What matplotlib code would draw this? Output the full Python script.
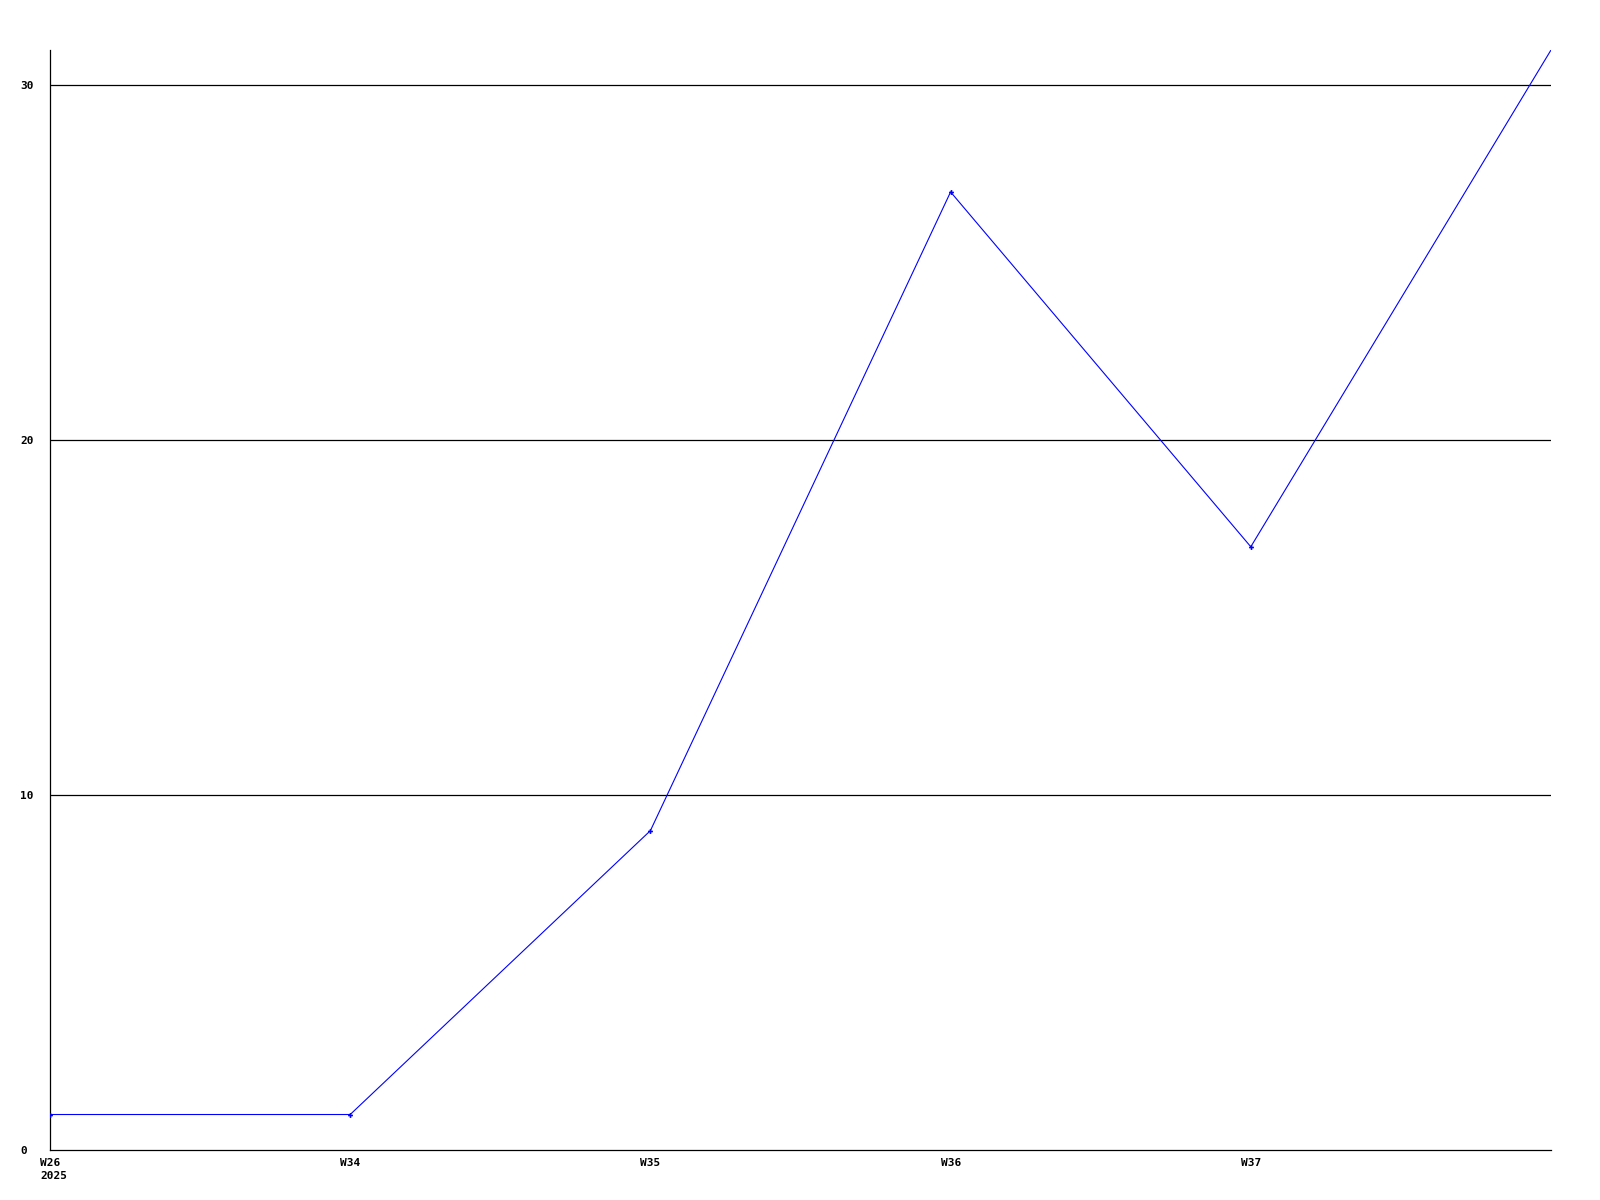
import matplotlib
matplotlib.use("Agg")
import matplotlib.pyplot as plt
import matplotlib.transforms as mtransforms

categories = ["W26\n2025", "W34", "W35", "W36", "W37", "W38"]
values = [1, 1, 9, 27, 17, 31]
yticks = [0, 10, 20, 30]

fig = plt.figure(figsize=(16, 12), dpi=100)
ax = fig.add_axes([50/1600, 1 - 1150/1200, 1501/1600, 1100/1200])

x = list(range(len(values)))
ax.plot(x, values, color="#0000ff", linewidth=0.8, marker="P", markersize=3.5,
        markeredgewidth=0, markevery=list(range(len(values) - 1)), zorder=3)

ax.set_xlim(0, len(values) - 1)
ax.set_ylim(0, 31)
ax.set_yticks(yticks)
ax.set_yticklabels([str(v) for v in yticks])
ax.set_xticks(x[:-1])
ax.set_xticklabels(categories[:-1])
for v in yticks[1:]:
    ax.axhline(v, color="black", linewidth=0.9, zorder=1)

for s in ["top", "right"]:
    ax.spines[s].set_visible(False)
for s in ["left", "bottom"]:
    ax.spines[s].set_color("black")
    ax.spines[s].set_linewidth(0.9)

ax.tick_params(axis="both", length=0, labelsize=8)
ax.tick_params(axis="x", pad=6)
for lab in ax.get_xticklabels() + ax.get_yticklabels():
    lab.set_fontfamily("DejaVu Sans Mono")
    lab.set_fontweight("bold")
offset = mtransforms.ScaledTranslation(-10/100, 0, fig.dpi_scale_trans)
for lab in ax.get_xticklabels():
    lab.set_horizontalalignment("left")
    lab.set_linespacing(1.35)
    lab.set_transform(lab.get_transform() + offset)
for lab in ax.get_yticklabels():
    lab.set_horizontalalignment("left")
    lab.set_transform(ax.get_yaxis_transform(which="tick1")
                      + mtransforms.ScaledTranslation(-30/100, 0, fig.dpi_scale_trans))

fig.savefig("out.png", dpi=100, facecolor="white")
